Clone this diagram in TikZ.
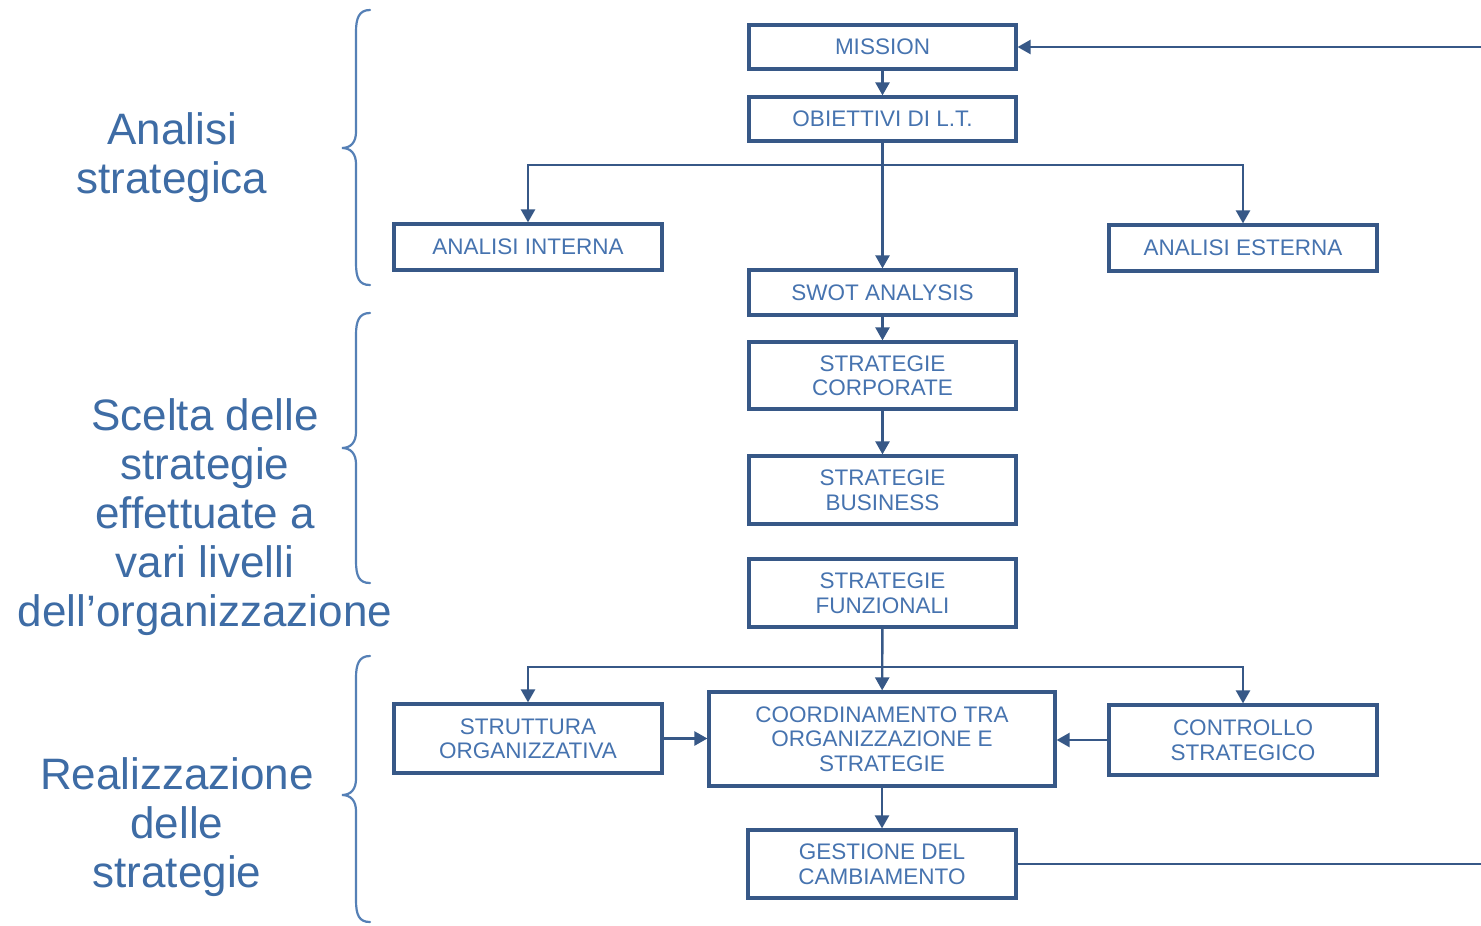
\documentclass[tikz,border=0pt]{standalone}
\usepackage{fontspec}
\setmainfont{Liberation Sans}
\usetikzlibrary{arrows.meta}
\definecolor{boxc}{RGB}{55,88,135}
\definecolor{txtc}{RGB}{70,115,175}
\definecolor{lblc}{RGB}{62,108,165}
\definecolor{brc}{RGB}{85,128,182}
\tikzset{
  box/.style={draw=boxc, line width=3.2pt, text=txtc, align=center, inner sep=0pt,
    minimum width=267pt, font=\fontsize{22.5}{24.5}\selectfont},
  arr/.style={draw=boxc, line width=2.4pt, -{Triangle[length=13pt,width=14pt]}},
  lbl/.style={text=lblc, align=center, font=\fontsize{44}{49}\selectfont},
  brace/.style={draw=brc, line width=2.2pt, line cap=round}
}
\begin{document}
\begin{tikzpicture}[x=1pt,y=-1pt]
\useasboundingbox (0,0) rectangle (1481,926);
\fill[white] (0,0) rectangle (1481,926);

% boxes
\node[box, minimum height=44pt] (mis) at (882.5,47) {MISSION};
\node[box, minimum height=44pt] (obi) at (882.5,119) {OBIETTIVI DI L.T.};
\node[box, minimum width=268pt, minimum height=46pt] (ain) at (528,247) {ANALISI INTERNA};
\node[box, minimum width=268pt, minimum height=46pt] (aes) at (1243,248) {ANALISI ESTERNA};
\node[box, minimum height=45pt] (swot) at (882.5,292.5) {SWOT ANALYSIS};
\node[box, minimum height=67pt] (corp) at (882.5,375.5) {STRATEGIE\\CORPORATE};
\node[box, minimum height=68pt] (bus) at (882.5,490) {STRATEGIE\\BUSINESS};
\node[box, minimum height=68pt] (fun) at (882.5,593) {STRATEGIE\\FUNZIONALI};
\node[box, minimum width=268pt, minimum height=69pt] (str) at (528,738.5) {STRUTTURA\\ORGANIZZATIVA};
\node[box, minimum width=346pt, minimum height=94pt] (coo) at (882,739) {COORDINAMENTO TRA\\ORGANIZZAZIONE E\\STRATEGIE};
\node[box, minimum width=268pt, minimum height=70pt] (con) at (1243,740) {CONTROLLO\\STRATEGICO};
\node[box, minimum width=268pt, minimum height=68pt] (ges) at (882,864) {GESTIONE DEL\\CAMBIAMENTO};

% connectors
\coordinate (b1) at (882.5,165);
\coordinate (b2) at (882.5,667);
\coordinate (fb) at (1510,865);
\draw[arr] (mis) -- (obi);
\draw[arr] (obi) -- (swot);
\draw[arr] (b1) -| (ain);
\draw[arr] (b1) -| (aes);
\draw[arr] (swot) -- (corp);
\draw[arr] (corp) -- (bus);
\draw[arr] (fun) -- (coo);
\draw[arr] (b2) -| (str);
\draw[arr] (b2) -| (con);
\draw[arr] (str.east) -- (str.east -| coo.west);
\draw[arr] (con.west) -- (con.west -| coo.east);
\draw[arr] (coo) -- (ges);
\draw[arr] (ges.east) -- (ges.east -| fb) |- (mis.east);

% braces
\draw[brace] (370,10) .. controls (359,10) and (356,18) .. (356,32) -- (356,132)
  .. controls (356,142) and (351,148) .. (342,148)
  .. controls (351,148) and (356,154) .. (356,164) -- (356,263)
  .. controls (356,278) and (359,285) .. (370,285);
\draw[brace] (370,313) .. controls (359,313) and (356,321) .. (356,335) -- (356,432)
  .. controls (356,442) and (351,448) .. (342,448)
  .. controls (351,448) and (356,454) .. (356,464) -- (356,561)
  .. controls (356,576) and (359,583) .. (370,583);
\draw[brace] (370,656) .. controls (359,656) and (356,664) .. (356,678) -- (356,779)
  .. controls (356,789) and (351,795) .. (342,795)
  .. controls (351,795) and (356,801) .. (356,811) -- (356,900)
  .. controls (356,915) and (359,922) .. (370,922);

% labels
\node[lbl] (l1) at (172,158) {Analisi\\strategica};
\node[lbl] (l2) at (205,517) {Scelta delle\\strategie\\effettuate a\\vari livelli\\dell’organizzazione};
\node[lbl] (l3) at (177,827) {Realizzazione\\delle\\strategie};
\end{tikzpicture}
\end{document}
